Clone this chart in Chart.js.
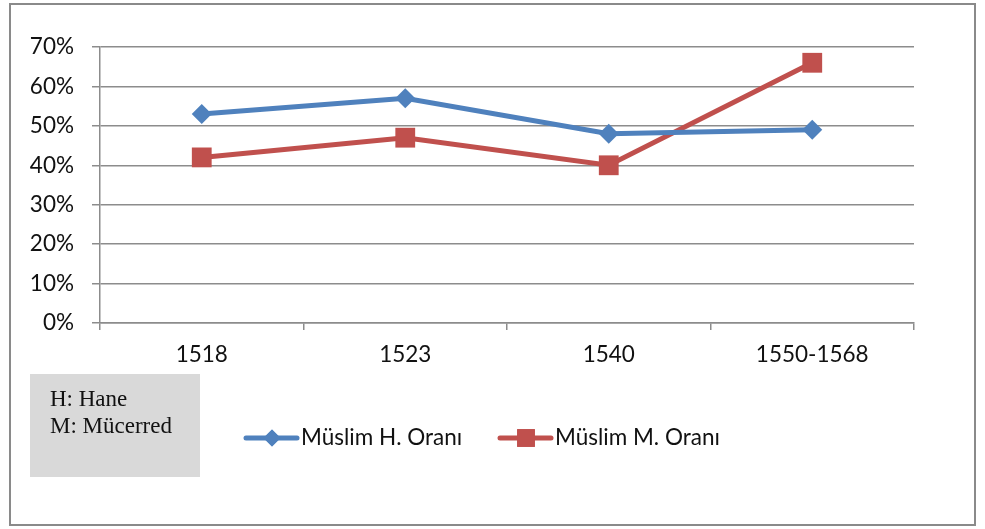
<!DOCTYPE html>
<html>
<head>
<meta charset="utf-8">
<script src="https://cdn.jsdelivr.net/npm/chart.js@4/dist/chart.umd.min.js"></script>
<style>
  html, body { margin: 0; padding: 0; background: #fff; }
  #wrap { width: 985px; height: 529px; }
</style>
</head>
<body>
<div id="wrap"><canvas id="chart" width="985" height="529"></canvas></div>
<script>
// data
const years = ['1518', '1523', '1540', '1550-1568'];
const muslimH = [53, 57, 48, 49];
const muslimM = [42, 47, 40, 66];
const seriesNames = ['Müslim H. Oranı', 'Müslim M. Oranı'];
const noteLines = ['H: Hane', 'M: Mücerred'];

const FONT = 'Lato, "Liberation Sans", sans-serif';
const BLUE = '#4F81BD';
const RED = '#C0504D';
const GRID = '#8c8c8c';

// frame, note box and legend drawn around the chart
const decorations = {
  id: 'decorations',
  beforeDraw(chart) {
    const ctx = chart.ctx;
    ctx.save();
    ctx.fillStyle = '#fff';
    ctx.fillRect(0, 0, chart.width, chart.height);
    ctx.strokeStyle = '#8a8a8a';
    ctx.lineWidth = 2;
    ctx.strokeRect(10, 4, 965, 521);
    ctx.restore();
  },
  afterDraw(chart) {
    const ctx = chart.ctx;
    ctx.save();
    // note box
    ctx.fillStyle = '#D9D9D9';
    ctx.fillRect(30, 374, 170, 103);
    ctx.fillStyle = '#111';
    ctx.font = '23px "Liberation Serif", "DejaVu Serif", serif';
    ctx.textBaseline = 'alphabetic';
    ctx.textAlign = 'left';
    noteLines.forEach((t, i) => ctx.fillText(t, 50, 406 + i * 27));

    // legend
    const items = [
      { x: 246, ds: chart.data.datasets[0], style: 'rectRot', r: 8.5 },
      { x: 500, ds: chart.data.datasets[1], style: 'rect', r: 12.5 }
    ];
    const ly = 438;
    items.forEach(it => {
      ctx.strokeStyle = it.ds.borderColor;
      ctx.lineWidth = 5;
      ctx.lineCap = 'round';
      ctx.beginPath();
      ctx.moveTo(it.x, ly);
      ctx.lineTo(it.x + 51, ly);
      ctx.stroke();
      ctx.fillStyle = it.ds.borderColor;
      Chart.helpers.drawPoint(ctx, { pointStyle: it.style, radius: it.r, borderWidth: 0 }, it.x + 26, ly);
      ctx.fill();
      ctx.fillStyle = '#111';
      ctx.font = '22.5px ' + FONT;
      ctx.textBaseline = 'middle';
      ctx.fillText(it.ds.label, it.x + 55, ly);
    });
    ctx.restore();
  }
};

new Chart(document.getElementById('chart').getContext('2d'), {
  type: 'line',
  data: {
    labels: years,
    datasets: [
      {
        label: seriesNames[0],
        data: muslimH,
        borderColor: BLUE,
        backgroundColor: BLUE,
        borderWidth: 5,
        pointStyle: 'rectRot',
        pointRadius: 10,
        pointHoverRadius: 10,
        pointBorderWidth: 0,
        tension: 0
      },
      {
        label: seriesNames[1],
        data: muslimM,
        borderColor: RED,
        backgroundColor: RED,
        borderWidth: 5,
        pointStyle: 'rect',
        pointRadius: 14,
        pointHoverRadius: 14,
        pointBorderWidth: 0,
        tension: 0
      }
    ]
  },
  options: {
    responsive: false,
    animation: false,
    layout: { padding: { left: 0, top: 47, right: 71, bottom: 0 } },
    plugins: {
      legend: { display: false },
      tooltip: { enabled: false }
    },
    scales: {
      x: {
        offset: true,
        afterFit(scale) { scale.height = 206; },
        grid: {
          offset: true,
          drawOnChartArea: false,
          drawTicks: true,
          tickLength: 7,
          color: GRID,
          lineWidth: 1.5
        },
        border: { color: GRID, width: 1.5 },
        ticks: {
          color: '#111',
          padding: 11,
          font: { family: FONT, size: 22.5 }
        }
      },
      y: {
        min: 0,
        max: 70,
        afterFit(scale) { scale.width = 100; },
        grid: {
          color: GRID,
          lineWidth: 1.5,
          tickLength: 8
        },
        border: { color: GRID, width: 1.5 },
        ticks: {
          stepSize: 10,
          color: '#111',
          padding: 18,
          font: { family: FONT, size: 22.5 },
          callback: v => v + '%'
        }
      }
    }
  },
  plugins: [decorations]
});
</script>
</body>
</html>
